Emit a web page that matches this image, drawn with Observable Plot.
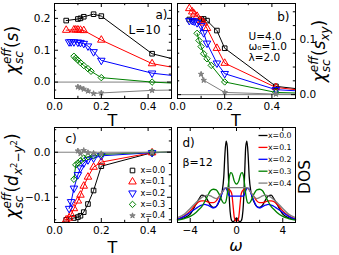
<!DOCTYPE html>
<html><head><meta charset="utf-8">
<script src="https://cdn.jsdelivr.net/npm/d3@7"></script>
<script src="https://cdn.jsdelivr.net/npm/@observablehq/plot@0.6"></script>
<style>
body{margin:0;background:#fff;}
#fig{position:relative;width:339px;height:255px;overflow:hidden;font-family:"DejaVu Sans";}
#fig svg{position:absolute;left:0;top:0;}
</style></head><body><div id="fig"></div><script>
// ---------- data ----------
const seriesLabels = ["x=0.0","x=0.1","x=0.2","x=0.3","x=0.4"];
const tTicks = [0, 0.2, 0.4];
const tMinor = [0.1, 0.3];

// panel a: chi_eff(s)  [T, value]
const a_x0 = [[0.05,0.193],[0.1,0.198],[0.111,0.200],[0.125,0.205],[0.167,0.213],[0.2,0.207],[0.417,0.089],[0.5,0.074]];
const a_x1 = [[0.05,0.163],[0.083,0.164],[0.091,0.164],[0.1,0.164],[0.111,0.163],[0.125,0.162],[0.2,0.132],[0.417,0.058],[0.5,0.047]];
const a_x2 = [[0.0625,0.126],[0.071,0.126],[0.083,0.126],[0.1,0.125],[0.111,0.124],[0.125,0.121],[0.143,0.113],[0.167,0.095],[0.2,0.068],[0.417,0.028],[0.5,0.021]];
const a_x3 = [[0.083,0.081],[0.091,0.075],[0.1,0.069],[0.111,0.061],[0.125,0.052],[0.143,0.042],[0.156,0.034],[0.2,0.014],[0.417,0.0],[0.5,-0.003]];
const a_x4 = [[0.1,-0.015],[0.111,-0.018],[0.125,-0.022],[0.143,-0.028],[0.167,-0.036],[0.2,-0.034],[0.417,-0.026],[0.5,-0.025]];
const aYTicks = [0, 0.1, 0.2];
const aYMinor = [-0.025,0.025,0.05,0.075,0.125,0.15,0.175,0.225];

// panel b: chi_eff(s_xy)
const b_x0 = [[0.05,0.136],[0.1,0.137],[0.111,0.137],[0.125,0.134],[0.167,0.116],[0.2,0.084],[0.417,0.015],[0.5,0.011]];
const b_x1 = [[0.05,0.156],[0.0625,0.150],[0.071,0.146],[0.083,0.142],[0.1,0.134],[0.111,0.130],[0.125,0.120],[0.167,0.084],[0.2,0.057],[0.417,0.013],[0.5,0.009]];
const b_x2 = [[0.05,0.134],[0.0625,0.134],[0.071,0.133],[0.083,0.130],[0.1,0.125],[0.111,0.112],[0.125,0.093],[0.167,0.057],[0.2,0.038],[0.417,0.009],[0.5,0.007]];
const b_x3 = [[0.083,0.111],[0.091,0.098],[0.1,0.087],[0.111,0.074],[0.125,0.065],[0.143,0.053],[0.2,0.023],[0.417,0.004],[0.5,0.003]];
const b_x4 = [[0.1,0.037],[0.111,0.026],[0.2,0.004],[0.417,0.001],[0.5,0.001]];
const bYTicks = [0, 0.1];
const bYMinor = [0.025,0.05,0.075,0.125,0.15];

// panel c: chi_eff(d_{x2-y2})
const c_x0 = [[0.05,-0.150],[0.083,-0.146],[0.1,-0.144],[0.111,-0.141],[0.125,-0.133],[0.143,-0.115],[0.167,-0.085],[0.2,-0.031],[0.417,-0.001],[0.5,0.0]];
const c_x1 = [[0.05,-0.150],[0.0625,-0.146],[0.071,-0.138],[0.083,-0.125],[0.1,-0.108],[0.111,-0.095],[0.125,-0.075],[0.143,-0.055],[0.167,-0.033],[0.2,-0.022],[0.417,-0.001],[0.5,0.0]];
const c_x2 = [[0.0625,-0.125],[0.071,-0.11],[0.083,-0.08],[0.1,-0.05],[0.111,-0.035],[0.125,-0.024],[0.143,-0.017],[0.167,-0.013],[0.2,-0.008],[0.417,-0.001],[0.5,0.0]];
const c_x3 = [[0.083,-0.06],[0.091,-0.028],[0.1,-0.024],[0.111,-0.019],[0.125,-0.013],[0.143,-0.01],[0.167,-0.008],[0.2,-0.005],[0.417,0.0],[0.5,0.0]];
const c_x4 = [[0.1,0.003],[0.111,-0.003],[0.125,0.004],[0.143,-0.001],[0.167,-0.002],[0.2,-0.003],[0.417,0.0],[0.5,0.0]];
const cYTicks = [0, -0.1];
const cYMinor = [0.025,0.05,-0.025,-0.05,-0.075,-0.125,-0.15];

// panel d: DOS(omega), beta = 12
const omega = [-5.1,-4.5,-4,-3.5,-3.25,-3,-2.75,-2.5,-2.25,-2,-1.75,-1.5,-1.25,-1.1,-1,-0.9,-0.8,-0.7,-0.6,-0.5,-0.4,-0.3,-0.2,-0.1,0,0.1,0.2,0.3,0.4,0.5,0.6,0.7,0.8,0.9,1,1.1,1.25,1.5,1.75,2,2.25,2.5,2.75,3,3.25,3.5,4,4.5,5.1];
const dos_x0 = [0.016,0.025,0.044,0.096,0.123,0.144,0.140,0.118,0.091,0.079,0.084,0.110,0.160,0.240,0.360,0.428,0.400,0.250,0.100,0.030,0.008,0.004,0.008,0.018,0.024,0.018,0.008,0.004,0.008,0.030,0.100,0.250,0.400,0.428,0.360,0.240,0.160,0.110,0.084,0.079,0.091,0.118,0.140,0.144,0.123,0.096,0.044,0.025,0.016];
const dos_x1 = [0.019,0.035,0.061,0.096,0.109,0.114,0.114,0.109,0.105,0.105,0.114,0.137,0.158,0.172,0.179,0.181,0.179,0.176,0.172,0.165,0.148,0.090,0.030,0.010,0.008,0.010,0.030,0.090,0.148,0.165,0.172,0.176,0.179,0.181,0.179,0.172,0.158,0.137,0.114,0.105,0.105,0.109,0.114,0.114,0.109,0.096,0.061,0.035,0.019];
const dos_x2 = [0.016,0.032,0.053,0.074,0.084,0.091,0.095,0.091,0.084,0.077,0.084,0.114,0.154,0.175,0.181,0.179,0.167,0.149,0.140,0.139,0.139,0.139,0.139,0.139,0.139,0.139,0.139,0.139,0.139,0.139,0.140,0.149,0.167,0.179,0.181,0.175,0.154,0.114,0.084,0.077,0.084,0.091,0.095,0.091,0.084,0.074,0.053,0.032,0.016];
const dos_x3 = [0.012,0.021,0.032,0.053,0.068,0.084,0.109,0.140,0.167,0.175,0.172,0.149,0.114,0.102,0.102,0.114,0.149,0.202,0.246,0.263,0.260,0.242,0.219,0.207,0.202,0.207,0.219,0.242,0.260,0.263,0.246,0.202,0.149,0.114,0.102,0.102,0.114,0.149,0.172,0.175,0.167,0.140,0.109,0.084,0.068,0.053,0.032,0.021,0.012];
const dos_x4 = [0.026,0.044,0.074,0.105,0.119,0.132,0.140,0.144,0.140,0.132,0.126,0.137,0.158,0.172,0.179,0.184,0.184,0.184,0.184,0.184,0.184,0.184,0.184,0.184,0.184,0.184,0.184,0.184,0.184,0.184,0.184,0.184,0.184,0.184,0.179,0.172,0.158,0.137,0.126,0.132,0.140,0.144,0.140,0.132,0.119,0.105,0.074,0.044,0.026];
const wTicks = [-4, 0, 4];
const wMinor = [-2, 2];

// ---------- styles ----------
const colors = ["#000000","#ff0000","#0000ff","#008000","#808080"];
const triDown = {draw(ctx, size){const s3=Math.sqrt(3);const y=-Math.sqrt(size/(s3*3));ctx.moveTo(0,-y*2);ctx.lineTo(-s3*y,y);ctx.lineTo(s3*y,y);ctx.closePath();}};
const hLine = {draw(ctx){ctx.moveTo(-4.5,0);ctx.lineTo(4.5,0);}};
const symbols = ["square","triangle",triDown,"diamond2","star"];
const fills = ["none","none","none","none","#808080"];
const radii = [2.6,2.8,2.8,2.9,1.7];

const W = 339, H = 255;
const fig = document.getElementById("fig");

function panel(o){
  const fh = H - o.mt - o.mb, fw = W - o.ml - o.mr;
  const marks = [];
  if (o.zero) marks.push(Plot.ruleY([0], {stroke:"#808080", strokeWidth:1}));
  (o.series||[]).forEach((s,i)=>{
    marks.push(Plot.line(s, {x:d=>d[0], y:d=>d[1], stroke:colors[i], strokeWidth:1}));
  });
  (o.series||[]).forEach((s,i)=>{
    marks.push(Plot.dot(s.filter(d=>d[0]<0.5), {x:d=>d[0], y:d=>d[1], symbol:symbols[i], stroke:colors[i], fill:fills[i], r:radii[i], strokeWidth:1}));
  });
  (o.curves||[]).forEach((c,i)=>{
    marks.push(Plot.line(o.cx.map((w,j)=>[w,c[j]]), {x:d=>d[0], y:d=>d[1], stroke:colors[i], strokeWidth:1.3, curve:"monotone-x"}));
  });
  marks.push(Plot.frame({stroke:"black", strokeWidth:1}));
  // inward ticks
  marks.push(Plot.tickX(o.xMajor, {x:d=>d, insetTop:fh-4}));
  marks.push(Plot.tickX(o.xMajor, {x:d=>d, insetBottom:fh-4}));
  marks.push(Plot.tickX(o.xMinor, {x:d=>d, insetTop:fh-2.2}));
  marks.push(Plot.tickX(o.xMinor, {x:d=>d, insetBottom:fh-2.2}));
  if (o.yMajor){
    marks.push(Plot.tickY(o.yMajor, {y:d=>d, insetRight:fw-4}));
    marks.push(Plot.tickY(o.yMajor, {y:d=>d, insetLeft:fw-4}));
    marks.push(Plot.tickY(o.yMinor, {y:d=>d, insetRight:fw-2.2}));
    marks.push(Plot.tickY(o.yMinor, {y:d=>d, insetLeft:fw-2.2}));
    marks.push(Plot.axisY({anchor:o.yAnchor, ticks:o.yMajor, tickSize:0, tickPadding:4, tickFormat:".1f", label:null}));
  }
  marks.push(Plot.axisX({ticks:o.xMajor, tickSize:0, tickPadding:4, tickFormat:o.xFmt, label:null}));
  (o.extra||[]).forEach(m=>marks.push(m));
  const svg = Plot.plot({width:W, height:H, marginLeft:o.ml, marginRight:o.mr, marginTop:o.mt, marginBottom:o.mb,
    x:{domain:o.xDomain}, y:{domain:o.yDomain, axis: o.yMajor ? undefined : null},
    style:{background:"transparent", fontFamily:"DejaVu Sans", fontSize:"10.5px", overflow:"visible"},
    marks});
  fig.appendChild(svg);
}

const ann = (txt, anchor, dx, dy, ta, fs, extra={}) => Plot.text([txt], {text:d=>d, frameAnchor:anchor, dx, dy, textAnchor:ta, lineAnchor:"top", fontSize:fs, fill:"black", ...extra});

// a
panel({ml:54, mr:168, mt:3, mb:157, xDomain:[0,0.5], yDomain:[-0.0515,0.2466], xMajor:tTicks, xMinor:tMinor, xFmt:".1f",
  yMajor:aYTicks, yMinor:aYMinor, yAnchor:"left", zero:true, series:[a_x0,a_x1,a_x2,a_x3,a_x4],
  extra:[ann("a)","top-right",-4,7,"end",12), ann("L=10","top-right",-27,22,"middle",12)]});
// b
panel({ml:177, mr:44, mt:3, mb:157, xDomain:[0,0.5], yDomain:[-0.007,0.165], xMajor:tTicks, xMinor:tMinor, xFmt:".1f",
  yMajor:bYTicks, yMinor:bYMinor, yAnchor:"right", zero:true, series:[b_x0,b_x1,b_x2,b_x3,b_x4],
  extra:[ann("b)","top-right",-6,9,"end",12), ann("U=4.0\nω₀=1.0\nλ=2.0","top-right",-47,28.5,"start",10.5,{lineHeight:1.03})]});
// c
const legC = seriesLabels.flatMap((lab,i)=>[
  Plot.dot([lab], {frameAnchor:"top-right", dx:-39, dy:43+i*11.3, symbol:symbols[i], stroke:colors[i], fill:fills[i], r:radii[i], strokeWidth:1}),
  Plot.text([lab], {text:d=>d, frameAnchor:"top-right", dx:-31, dy:43+i*11.3, textAnchor:"start", lineAnchor:"middle", fontSize:8.2, fill:"black"})
]);
panel({ml:54, mr:168, mt:127, mb:33, xDomain:[0,0.5], yDomain:[-0.156,0.0549], xMajor:tTicks, xMinor:tMinor, xFmt:".1f",
  yMajor:cYTicks, yMinor:cYMinor, yAnchor:"left", zero:true, series:[c_x0,c_x1,c_x2,c_x3,c_x4],
  extra:[ann("c)","top-left",11,7,"start",12), ...legC]});
// d
const legD = seriesLabels.flatMap((lab,i)=>[
  Plot.dot([lab], {frameAnchor:"top-right", dx:-32.5, dy:8+i*11.9, symbol:hLine, stroke:colors[i], fill:"none", strokeWidth:1.3}),
  Plot.text([lab], {text:d=>d, frameAnchor:"top-right", dx:-27.5, dy:8+i*11.9, textAnchor:"start", lineAnchor:"middle", fontSize:7.8, fill:"black"})
]);
panel({ml:177, mr:44, mt:127, mb:33, xDomain:[-5.1,5.1], yDomain:[0,0.5], xMajor:wTicks, xMinor:wMinor, xFmt:"d",
  curves:[dos_x0,dos_x1,dos_x2,dos_x3,dos_x4], cx:omega,
  extra:[ann("d)","top-left",5,11,"start",12), ann("β=12","top-left",5,31,"start",11), ...legD]});

// ---------- overlay labels ----------
const ov = d3.create("svg").attr("width",W).attr("height",H).attr("font-family","DejaVu Sans");
fig.appendChild(ov.node());
function mathLabel(x, y, rot, size, parts){
  const t = ov.append("text").attr("transform",`translate(${x},${y}) rotate(${rot})`).attr("text-anchor","middle").attr("font-size",size).attr("fill","black");
  let prev = 0; const nodes = [];
  parts.forEach(p=>{
    const ts = t.append("tspan").text(p.t).attr("font-size", p.s || size).attr("font-style", p.it ? "italic" : "normal");
    const sh = p.sh || 0;
    if (sh !== prev) ts.attr("dy", -(sh - prev));
    prev = sh; nodes.push(ts);
  });
  parts.forEach((p,i)=>{ if (p.back) nodes[i].attr("dx", -nodes[i-1].node().getComputedTextLength()); });
}
const chiParts = [{t:"χ",it:true},{t:"sc",it:true,s:12,sh:-4.5},{t:"eff",it:true,s:12,sh:7,back:true}];
mathLabel(18, 50, -90, 17, [...chiParts,{t:"("},{t:"s",it:true},{t:")"}]);
mathLabel(325, 51, -90, 17, [...chiParts,{t:"("},{t:"s",it:true},{t:"xy",it:true,s:12,sh:-4},{t:")"}]);
mathLabel(18, 176, -90, 17, [...chiParts,{t:"("},{t:"d",it:true},{t:"x",it:true,s:12,sh:-4},{t:"2",s:8.5,sh:1},{t:"−",s:12,sh:-4},{t:"y",it:true,s:12,sh:-4},{t:"2",s:8.5,sh:1},{t:")"}]);
mathLabel(310, 177, -90, 15.5, [{t:"DOS"}]);
mathLabel(112.5, 126, 0, 16, [{t:"T"}]);
mathLabel(236, 126, 0, 16, [{t:"T"}]);
mathLabel(112.5, 252.5, 0, 16, [{t:"T"}]);
mathLabel(236, 250.5, 0, 16, [{t:"ω",it:true}]);
</script></body></html>
